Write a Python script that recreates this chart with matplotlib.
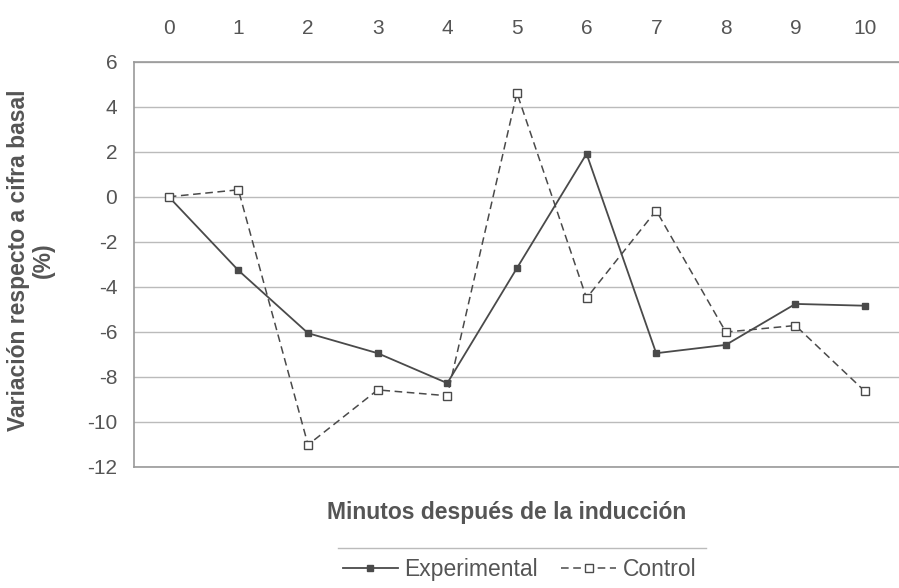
import matplotlib.pyplot as plt
from matplotlib.lines import Line2D

plt.rcParams['font.family'] = ['Liberation Sans', 'DejaVu Sans']
plt.rcParams['axes.unicode_minus'] = False

# Minutos después de la inducción
minutes = list(range(0, 11))

# Variación respecto a cifra basal (%)
experimental = [0.0, -3.27, -6.06, -6.95, -8.28, -3.17, 1.91, -6.95, -6.58, -4.76, -4.84]
control = [0.0, 0.31, -11.02, -8.58, -8.84, 4.61, -4.50, -0.61, -6.01, -5.72, -8.65]

yticks = list(range(-12, 7, 2))

text_col = '#555555'
line_col = '#4a4a4a'

fig = plt.figure(figsize=(8.99, 5.88), dpi=100)
ax = fig.add_axes([0.149, 0.206, 0.852, 0.689])

ax.plot(minutes, experimental, color=line_col, linestyle='-', linewidth=1.3,
        marker='s', markersize=5, markerfacecolor=line_col, markeredgecolor=line_col,
        label='Experimental')
ax.plot(minutes, control, color=line_col, linestyle=(0, (5, 3)), linewidth=1.1,
        marker='s', markersize=6, markerfacecolor='white', markeredgecolor=line_col,
        label='Control')

ax.set_xlim(-0.5, 10.5)
ax.set_ylim(-12, 6)
ax.set_yticks(yticks)
ax.set_xticks(minutes)
ax.xaxis.tick_top()
ax.tick_params(axis='both', length=0, labelsize=15, labelcolor=text_col)
ax.tick_params(axis='x', pad=17)
ax.tick_params(axis='y', pad=12)

ax.grid(axis='y', color='#bbbbbb', linewidth=1)
ax.set_axisbelow(True)
for side in ['top', 'bottom', 'left', 'right']:
    ax.spines[side].set_color('#999999')
    ax.spines[side].set_linewidth(1.2)

ax.set_ylabel('Variación respecto a cifra basal\n(%)', fontsize=16.5, fontweight='bold',
              color=text_col, linespacing=1.1, va='center')
ax.yaxis.set_label_coords(-0.134, 0.51)
fig.text(0.563, 0.129, 'Minutos después de la inducción', fontsize=16.5, fontweight='bold',
         color=text_col, ha='center', va='center')

leg = fig.legend(loc='center', bbox_to_anchor=(0.578, 0.031), ncol=2, frameon=False,
                 fontsize=16.5, labelcolor=text_col, handlelength=2.4, columnspacing=1.0,
                 handletextpad=0.3)
fig.add_artist(Line2D([0.376, 0.785], [0.068, 0.068], transform=fig.transFigure,
                      color='#bbbbbb', linewidth=1))

fig.savefig('out.png', dpi=100)
